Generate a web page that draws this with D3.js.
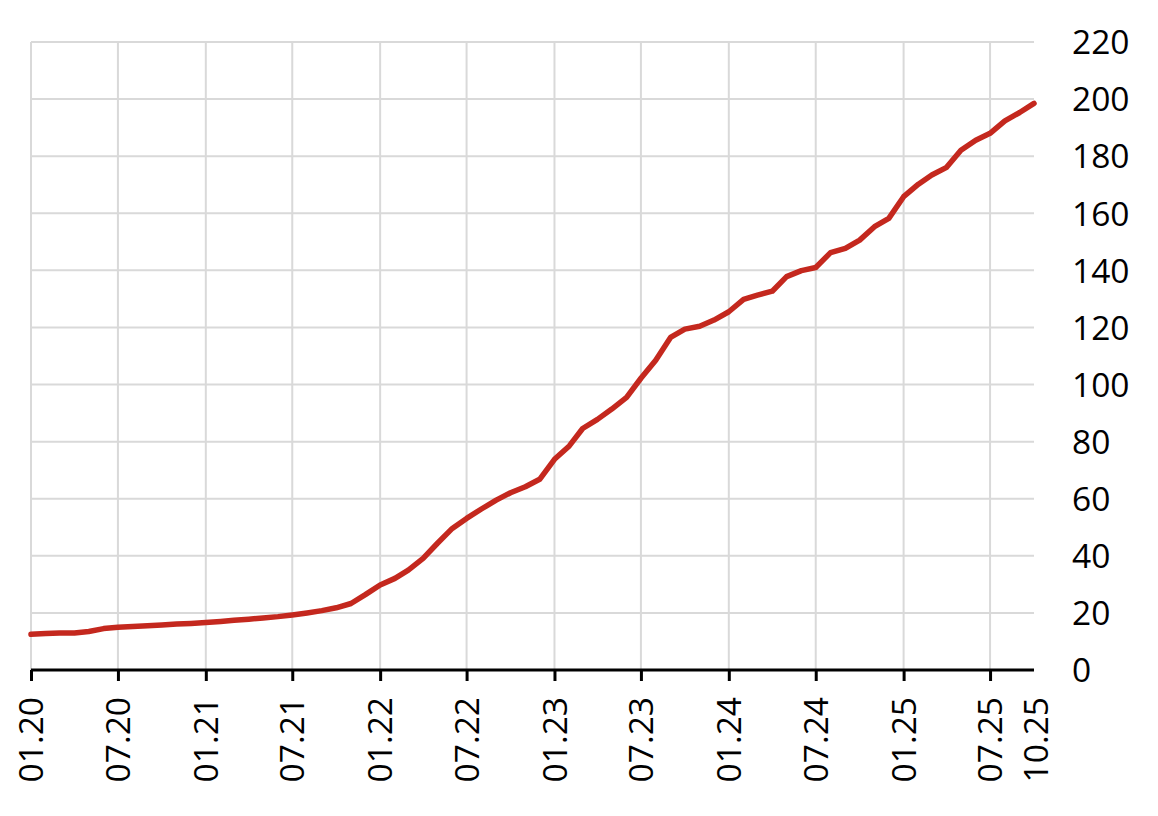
<!DOCTYPE html>
<html>
<head>
<meta charset="utf-8">
<script src="https://cdn.jsdelivr.net/npm/d3@7"></script>
<style>
  html, body { margin: 0; padding: 0; background: #fff; }
  svg { display: block; }
  text { font-family: "Open Sans", "Noto Sans", sans-serif; fill: #000; }
</style>
</head>
<body>
<svg id="chart" width="1158" height="816"></svg>
<script>
// Monthly series, 01.2020 .. 10.2025
const startMonth = "2020-01";
const values = [
  12.5, 12.8, 13.0, 13.0, 13.5, 14.5, 15.0, 15.2, 15.5, 15.8, 16.1, 16.3,
  16.6, 17.0, 17.4, 17.8, 18.2, 18.7, 19.3, 20.0, 20.8, 21.8, 23.3, 26.4,
  29.8, 32.1, 35.0, 39.1, 44.4, 49.6, 53.1, 56.4, 59.5, 62.1, 64.2, 66.8,
  73.8, 78.5, 84.6, 87.8, 91.4, 95.5, 102.2, 108.5, 116.5, 119.4, 120.4, 122.6,
  125.5, 129.8, 131.3, 132.7, 137.8, 139.9, 141.0, 146.2, 147.7, 150.6, 155.3, 158.2,
  165.8, 170.2, 173.4, 176.1, 182.1, 185.6, 188.0, 192.4, 195.3, 198.5
];
const xTickLabels = ["01.20","07.20","01.21","07.21","01.22","07.22","01.23","07.23","01.24","07.24","01.25","07.25"];
const xEndLabel = "10.25";
const yTicks = [0,20,40,60,80,100,120,140,160,180,200,220];

(function () {
const parseMonth = d3.utcParse("%m.%y");
const start = d3.utcParse("%Y-%m")(startMonth);
const data = values.map((v, i) => ({ date: d3.utcMonth.offset(start, i), value: v }));

const svg = d3.select("#chart");
const mLeft = 31, mRight = 1034, mTop = 42, mBottom = 670;
const fontSize = "33.5px";

const x = d3.scaleUtc()
  .domain([data[0].date, data[data.length - 1].date])
  .range([mLeft, mRight]);
const y = d3.scaleLinear().domain([0, 220]).range([mBottom, mTop]);

const tickDates = xTickLabels.map(parseMonth);

// gridlines
const grid = svg.append("g");
grid.selectAll("line.h").data(yTicks.filter(d => d > 0)).join("line")
  .attr("class", "h")
  .attr("x1", mLeft).attr("x2", mRight)
  .attr("y1", d => y(d)).attr("y2", d => y(d))
  .attr("stroke", "#d9d9d9").attr("stroke-width", 2);
grid.selectAll("line.v").data(tickDates).join("line")
  .attr("class", "v")
  .attr("x1", d => x(d)).attr("x2", d => x(d))
  .attr("y1", mTop).attr("y2", mBottom)
  .attr("stroke", "#d9d9d9").attr("stroke-width", 2);

// y axis (right side, labels only)
const yAxis = d3.axisRight(y).tickValues(yTicks).tickSize(0).tickPadding(0);
const gy = svg.append("g").attr("transform", `translate(1072,0)`).call(yAxis);
gy.select(".domain").remove();
gy.selectAll("text")
  .attr("x", 0)
  .attr("dy", "0.35em")
  .style("font-size", fontSize)
  .style("font-family", "'Open Sans', 'Noto Sans', sans-serif")
  .attr("text-anchor", "start");

// x axis
const xAxis = d3.axisBottom(x).tickValues(tickDates).tickFormat(d3.utcFormat("%m.%y"))
  .tickSize(11).tickSizeOuter(0);
const gx = svg.append("g").attr("transform", `translate(0,${mBottom})`).call(xAxis);
gx.select(".domain").attr("stroke", "#000").attr("stroke-width", 3)
  .attr("d", `M${mLeft},0H${mRight}`);
gx.selectAll(".tick line").attr("stroke", "#000").attr("stroke-width", 3);
gx.selectAll(".tick text")
  .style("font-size", fontSize)
  .style("font-family", "'Open Sans', 'Noto Sans', sans-serif")
  .attr("transform", "rotate(-90)")
  .attr("text-anchor", "end")
  .attr("x", -27)
  .attr("y", 0)
  .attr("dy", "0.35em");

// end label (no tick)
svg.append("text")
  .attr("transform", `translate(${x(parseMonth(xEndLabel)) + 2},${mBottom}) rotate(-90)`)
  .attr("x", -27).attr("dy", "0.35em")
  .attr("text-anchor", "end")
  .style("font-size", fontSize)
  .text(xEndLabel);

// line
const line = d3.line().x(d => x(d.date)).y(d => y(d.value));
svg.append("path").datum(data)
  .attr("fill", "none")
  .attr("stroke", "#c4281e")
  .attr("stroke-width", 5.5)
  .attr("stroke-linejoin", "round")
  .attr("stroke-linecap", "round")
  .attr("d", line);
})();
</script>
</body>
</html>
